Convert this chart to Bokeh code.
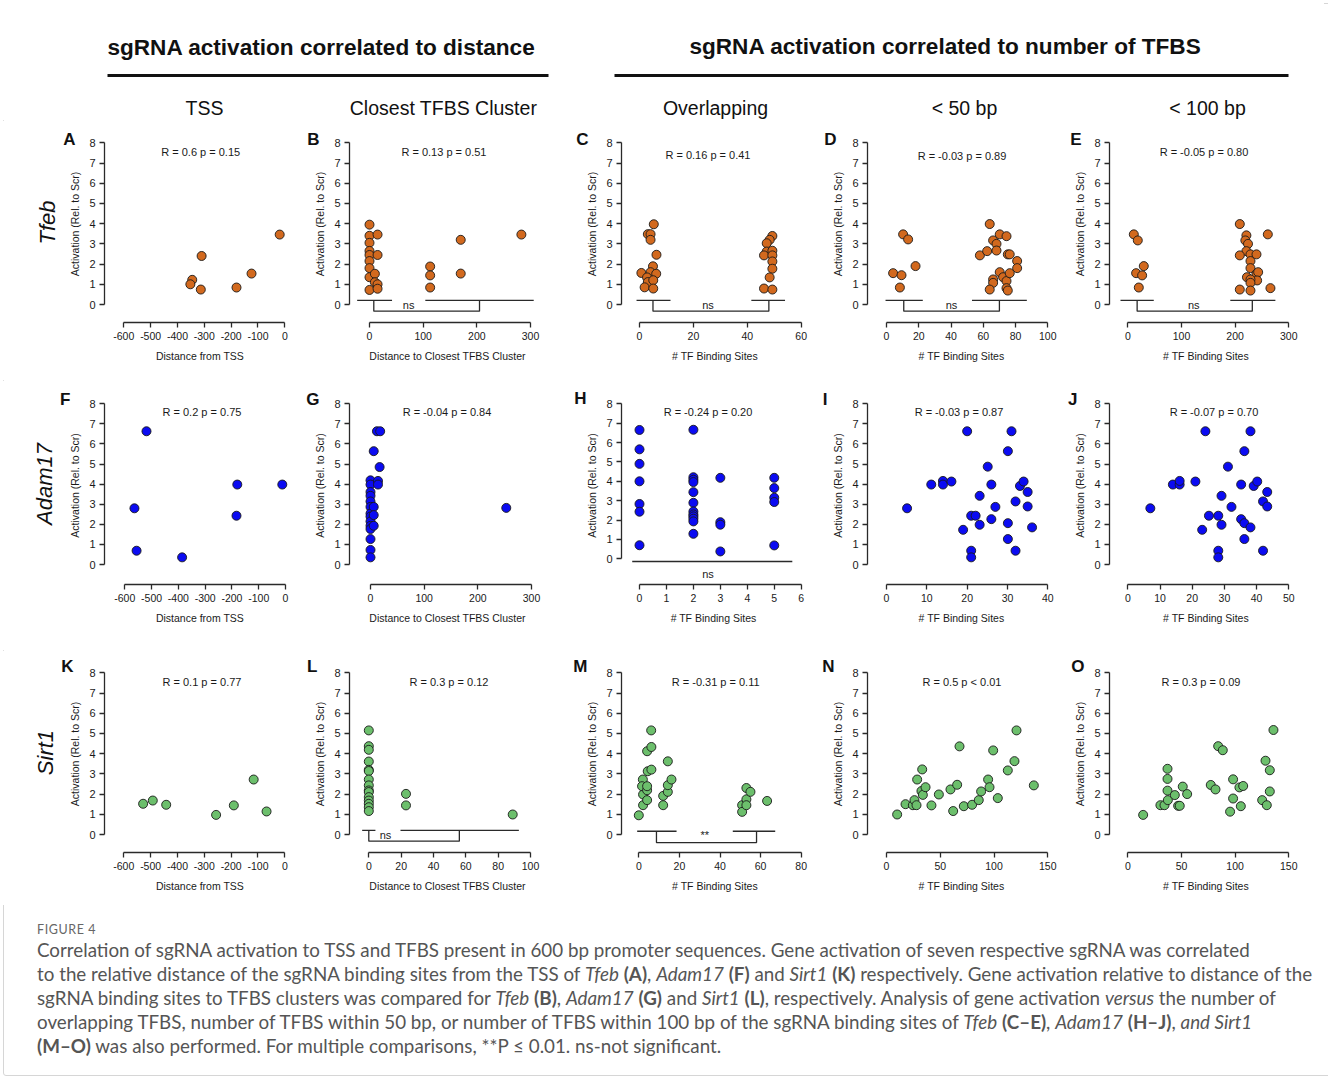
import math
from bokeh.plotting import figure
from bokeh.models import Range1d, Label, Div, FixedTicker, LinearAxis, CustomJSTickFormatter
from bokeh.layouts import row, column
from bokeh.embed import file_html
from bokeh.resources import INLINE

FONT = "Liberation Sans"
ORANGE = "#D2691E"
BLUE = "#0B0BF2"
GREEN = "#6CBF6C"

# ---------------------------------------------------------------- data
# Tfeb
tfeb_tss_x = [-345, -352, -310, -313, -180, -124, -19]
tfeb_tss_y = [1.22, 1.00, 2.40, 0.74, 0.84, 1.53, 3.46]
tfeb_clu_x = [0, 0, 0, 0, 0, 0, 0, 0, 0, 10, 10, 15, 15, 15, 15, 113, 113, 113, 170, 170, 283]
tfeb_clu_y = [3.95, 3.40, 3.05, 2.65, 2.45, 2.15, 1.80, 1.35, 0.72, 1.52, 1.10, 3.46, 2.45, 1.00, 0.78,
              1.88, 1.44, 0.84, 3.20, 1.53, 3.46]
tfeb_ovl_x = [5.3, 3.1, 4.1, 4.1, 6.3, 5.0, 0.7, 4.1, 6.2, 2.8, 3.1, 5.1, 1.9, 5.1,
              49.3, 48.3, 47.2, 47.2, 46.2, 49.3, 49.3, 49.3, 49.3, 48.3, 46.2, 49.3]
tfeb_ovl_y = [3.97, 3.48, 3.48, 3.20, 2.46, 1.89, 1.56, 1.60, 1.52, 1.34, 1.11, 1.20, 0.85, 0.79,
              3.39, 3.20, 3.03, 2.62, 2.43, 2.66, 2.43, 2.13, 1.77, 1.34, 0.79, 0.74]
tfeb_50_x = [4.1, 9.3, 8.3, 10.3, 13.4, 18.0, 57.9, 62.4, 64.0, 66.1, 68.2, 68.2, 70.2, 74.4, 75.2,
             76.4, 81.0, 81.0, 70.2, 72.3, 74.4, 76.4, 66.1, 66.1, 64.0, 74.4, 75.2]
tfeb_50_y = [1.55, 1.45, 0.84, 3.47, 3.22, 1.90, 2.43, 2.64, 3.98, 3.17, 3.00, 2.67, 3.47, 3.38, 2.48,
             2.48, 2.15, 1.80, 1.60, 1.35, 1.16, 1.55, 1.24, 1.07, 0.74, 0.81, 0.69]
tfeb_100_x = [11.2, 18.6, 15.5, 26.7, 29.8, 20.5, 208.7, 221, 219, 224, 221, 208.7, 228.6, 239.8,
              260.9, 228.6, 228.6, 222, 239.8, 242.9, 241, 228.6, 228.6, 208.7, 228.6, 265.8]
tfeb_100_y = [3.47, 3.17, 1.55, 1.44, 1.90, 0.84, 3.98, 3.42, 3.17, 3.00, 2.64, 2.43, 2.48, 2.48,
              3.47, 2.15, 1.80, 1.35, 1.52, 1.60, 1.19, 1.24, 1.07, 0.74, 0.69, 0.81]

# Adam17
adam_tss_x = [-519, -564, -556, -386, -180, -183, -12]
adam_tss_y = [6.63, 2.80, 0.69, 0.36, 3.98, 2.43, 3.98]
adam_clu_x = [0, 0, 0, 0, 0, 0, 0, 0, 0, 0, 0, 0, 0, 0, 6, 6, 6, 6, 12, 18, 17, 14, 14, 253]
adam_clu_y = [4.19, 3.98, 3.61, 3.42, 3.14, 2.87, 2.54, 2.39, 2.15, 1.93, 1.77, 1.27, 0.73, 0.36,
              5.64, 2.87, 2.46, 1.93, 6.63, 6.63, 4.85, 4.16, 3.98, 2.82]
adam_ovl_x = [0, 0, 0, 0, 0, 0, 0, 2, 2, 2, 2, 2, 2, 2, 2, 2, 2, 2, 2, 3, 3, 3, 3, 5, 5, 5, 5, 5]
adam_ovl_y = [6.65, 5.65, 4.90, 4.00, 2.83, 2.43, 0.70, 6.66, 4.21, 4.08, 3.96, 3.44, 2.89, 2.44,
              2.29, 2.19, 2.07, 1.93, 1.29, 4.18, 1.89, 1.76, 0.38, 4.18, 3.65, 3.15, 2.93, 0.69]
adam_50_x = [5.1, 11.1, 14, 14, 16.1, 20, 19, 21, 22.1, 21, 21, 23.1, 23.1, 25.1, 26, 26, 27, 30.1,
             31, 30.1, 30.1, 32, 32, 33.1, 34, 35, 35, 36.1]
adam_50_y = [2.80, 3.98, 4.16, 3.98, 4.13, 6.63, 1.73, 2.43, 2.43, 0.69, 0.36, 1.98, 3.42, 4.87, 3.98,
             2.26, 2.87, 5.64, 6.63, 2.06, 1.27, 3.14, 0.69, 3.91, 4.13, 3.61, 2.89, 1.85]
adam_100_x = [7, 14, 16.1, 16.1, 21, 24.1, 23.1, 25.2, 28.1, 28.1, 28.1, 29.1, 29.1, 31.1, 32.2, 35.2,
              35.2, 36.2, 36.2, 36.2, 38.1, 38.1, 39.1, 40.2, 42, 42, 43.3, 43.3]
adam_100_y = [2.80, 3.98, 3.98, 4.16, 4.13, 6.63, 1.73, 2.43, 2.43, 0.69, 0.36, 1.98, 3.42, 4.87, 2.87,
              3.98, 2.26, 2.06, 1.27, 5.64, 6.63, 1.85, 3.91, 4.13, 3.14, 0.69, 3.61, 2.89]

# Sirt1
sirt_tss_x = [-528, -492, -442, -256, -190, -116, -68]
sirt_tss_y = [1.52, 1.68, 1.47, 0.97, 1.44, 2.72, 1.14]
sirt_clu_x = [0, 0, 0, 0, 0, 0, 0, 0, 0, 0, 0, 0, 0, 0, 0, 23, 23, 89]
sirt_clu_y = [5.15, 4.37, 4.19, 3.61, 3.20, 3.14, 2.72, 2.43, 2.18, 2.10, 1.85, 1.68, 1.52, 1.35, 1.16,
              2.01, 1.44, 0.99]
sirt_ovl_x = [0, 2.1, 2.1, 2, 1.6, 4.1, 4.1, 4.1, 4.4, 4.1, 6.2, 6.2, 6.1, 12, 12, 14.3, 14.3, 14.3,
              16.1, 50.9, 50.9, 53, 53, 53, 55, 63.2]
sirt_ovl_y = [0.95, 1.45, 1.98, 2.72, 2.39, 1.70, 2.19, 2.39, 3.13, 4.12, 4.33, 3.21, 5.15, 1.45, 1.91,
              3.62, 2.11, 2.44, 2.72, 1.45, 1.12, 2.30, 1.74, 1.45, 2.11, 1.66]
sirt_50_x = [9.9, 17.7, 24.5, 26, 27.9, 28.5, 32.5, 33.2, 33.8, 36.3, 41.8, 48.7, 59.5, 62, 65.7, 67.9,
             71.9, 79.6, 85.8, 88, 94.5, 95.8, 99.2, 103.5, 112.8, 119, 120.9, 137]
sirt_50_y = [0.99, 1.50, 1.45, 1.70, 1.45, 2.72, 2.15, 3.22, 1.96, 2.34, 1.44, 1.98, 2.23, 1.16, 2.46,
             4.36, 1.40, 1.47, 1.70, 2.13, 2.72, 2.34, 4.16, 1.80, 3.17, 3.63, 5.15, 2.43]
sirt_100_x = [14.3, 30.4, 34.2, 37.3, 37, 37, 37, 43.8, 46.9, 48.4, 51.2, 55.3, 77.3, 81.7, 84.2, 88.5,
              95.3, 98.1, 98.1, 104, 105.3, 107.5, 125.2, 128.3, 129.5, 132.3, 132.3, 135.7]
sirt_100_y = [0.97, 1.45, 1.45, 1.70, 3.25, 2.75, 2.17, 1.95, 1.42, 1.42, 2.37, 2.00, 2.45, 2.23, 4.37,
              4.17, 1.13, 2.73, 1.78, 2.33, 1.40, 2.40, 1.70, 3.65, 1.45, 3.18, 2.13, 5.17]

# tick labels
ticks_tss = [-600, -500, -400, -300, -200, -100, 0]
ticks_300 = [0, 100, 200, 300]
ticks_60 = [0, 20, 40, 60]
ticks_100_20 = [0, 20, 40, 60, 80, 100]
ticks_6 = [0, 1, 2, 3, 4, 5, 6]
ticks_40 = [0, 10, 20, 30, 40]
ticks_50 = [0, 10, 20, 30, 40, 50]
ticks_80 = [0, 20, 40, 60, 80]
ticks_150 = [0, 50, 100, 150]
y_ticks = [0, 1, 2, 3, 4, 5, 6, 7, 8]

# statistics text per panel
stats = {
    "A": "R = 0.6  p = 0.15", "B": "R = 0.13  p = 0.51", "C": "R = 0.16  p = 0.41",
    "D": "R = -0.03  p = 0.89", "E": "R = -0.05  p = 0.80",
    "F": "R = 0.2  p = 0.75", "G": "R = -0.04  p = 0.84", "H": "R = -0.24  p = 0.20",
    "I": "R = -0.03  p = 0.87", "J": "R = -0.07  p = 0.70",
    "K": "R = 0.1  p = 0.77", "L": "R = 0.3  p = 0.12", "M": "R = -0.31  p = 0.11",
    "N": "R = 0.5  p < 0.01", "O": "R = 0.3  p = 0.09",
}
# group comparison brackets: (group spans, bracket ends, label x, label)
brackets = {
    "B": ([(-23, 42), (104, 306)], (8, 205), 73, "ns"),
    "C": ([(-1.1, 11.5), (41.5, 54)], (5, 48), 25.4, "ns"),
    "D": ([(-0.6, 22.5), (53, 87)], (10.7, 70), 40.3, "ns"),
    "E": ([(-13.6, 48.4), (191, 275)], (17.4, 232), 123, "ns"),
    "L": ([(-4.1, 4.1), (19.6, 92.8)], (0, 56), 10.3, "ns"),
    "M": ([(-0.8, 18.6), (46.3, 67.2)], (8.7, 58), 32.5, "**"),
}
h_line = ((-0.27, 5.67), 2.54, "ns")   # single comparison line in panel H

row_names = ["Tfeb", "Adam17", "Sirt1"]
col_titles = ["TSS", "Closest TFBS Cluster", "Overlapping", "< 50 bp", "< 100 bp"]
xlab_tss = "Distance from TSS"
xlab_clu = "Distance to Closest TFBS Cluster"
xlab_tf = "# TF Binding Sites"

# ---------------------------------------------------------------- layout constants (page px)
COL_LEFT = [0, 300, 570, 815, 1060]
COL_W = [300, 270, 245, 245, 264]
FRAME_L = [104, 349, 621, 867, 1109]
FRAME_R = [295, 545, 808, 1055, 1302]
HDR_H = 120
ROW_TOP = [120, 380, 650]
ROW_H = [260, 270, 255]
ROW_YCAL = [(304, 142.3, 322), (564, 402.3, 584), (834, 672.3, 852)]
ROW_LABEL_X = 50
LETTER_W = {"A": .72, "B": .72, "C": .72, "D": .72, "E": .67, "F": .61, "G": .78, "H": .72,
            "I": .28, "J": .56, "K": .72, "L": .61, "M": .83, "N": .72, "O": .78}
Y_AXIS_EXTENT = 38   # approx. px occupied by the y axis (ticks, labels, title)

panels = [
    # row 0
    dict(k="A", r=0, c=0, x=tfeb_tss_x, y=tfeb_tss_y, col=ORANGE, t=ticks_tss, xl=xlab_tss,
         xcal=(-600, 123.3, 0, 284.3), lt=(69, 139), st=(201.7, 151)),
    dict(k="B", r=0, c=1, x=tfeb_clu_x, y=tfeb_clu_y, col=ORANGE, t=ticks_300, xl=xlab_clu,
         xcal=(0, 369, 300, 530), lt=(313, 139), st=(445, 151)),
    dict(k="C", r=0, c=2, x=tfeb_ovl_x, y=tfeb_ovl_y, col=ORANGE, t=ticks_60, xl=xlab_tf,
         xcal=(0, 639, 60, 800.7), lt=(582, 139), st=(709, 154)),
    dict(k="D", r=0, c=3, x=tfeb_50_x, y=tfeb_50_y, col=ORANGE, t=ticks_100_20, xl=xlab_tf,
         xcal=(0, 886, 100, 1047.3), lt=(830, 139), st=(963, 155)),
    dict(k="E", r=0, c=4, x=tfeb_100_x, y=tfeb_100_y, col=ORANGE, t=ticks_300, xl=xlab_tf,
         xcal=(0, 1127.3, 300, 1288.3), lt=(1075, 139), st=(1205, 151)),
    # row 1
    dict(k="F", r=1, c=0, x=adam_tss_x, y=adam_tss_y, col=BLUE, t=ticks_tss, xl=xlab_tss,
         xcal=(-600, 124.3, 0, 285), lt=(65, 398), st=(203, 411)),
    dict(k="G", r=1, c=1, x=adam_clu_x, y=adam_clu_y, col=BLUE, t=ticks_300, xl=xlab_clu,
         xcal=(0, 370, 300, 531), lt=(312, 398), st=(448, 411)),
    dict(k="H", r=1, c=2, x=adam_ovl_x, y=adam_ovl_y, col=BLUE, t=ticks_6, xl="#  TF Binding Sites",
         xcal=(0, 639, 6, 800.7), lt=(580, 398), st=(709, 411), ycal=(558.3, 403.3, 584.3)),
    dict(k="I", r=1, c=3, x=adam_50_x, y=adam_50_y, col=BLUE, t=ticks_40, xl=xlab_tf,
         xcal=(0, 886, 40, 1047.3), lt=(825, 398), st=(960, 411)),
    dict(k="J", r=1, c=4, x=adam_100_x, y=adam_100_y, col=BLUE, t=ticks_50, xl=xlab_tf,
         xcal=(0, 1127.3, 50, 1288.3), lt=(1072, 398), st=(1215, 411)),
    # row 2
    dict(k="K", r=2, c=0, x=sirt_tss_x, y=sirt_tss_y, col=GREEN, t=ticks_tss, xl=xlab_tss,
         xcal=(-600, 123.3, 0, 284.3), lt=(67, 666), st=(203, 681.7)),
    dict(k="L", r=2, c=1, x=sirt_clu_x, y=sirt_clu_y, col=GREEN, t=ticks_100_20, xl=xlab_clu,
         xcal=(0, 368.3, 100, 530), lt=(312, 666), st=(450, 681.7)),
    dict(k="M", r=2, c=2, x=sirt_ovl_x, y=sirt_ovl_y, col=GREEN, t=ticks_80, xl=xlab_tf,
         xcal=(0, 638.3, 80, 800.7), lt=(580, 666), st=(716.7, 681.7)),
    dict(k="N", r=2, c=3, x=sirt_50_x, y=sirt_50_y, col=GREEN, t=ticks_150, xl=xlab_tf,
         xcal=(0, 886, 150, 1047.3), lt=(828, 666), st=(963, 681.7)),
    dict(k="O", r=2, c=4, x=sirt_100_x, y=sirt_100_y, col=GREEN, t=ticks_150, xl=xlab_tf,
         xcal=(0, 1127.3, 150, 1288.3), lt=(1077, 666), st=(1202, 681.7)),
]

TXT = "#1a1a1a"
LINE = "#2a2a2a"


def make_panel(s):
    c, r = s["c"], s["r"]
    fig_left, fig_w = COL_LEFT[c], COL_W[c]
    top, H = ROW_TOP[r], ROW_H[r]
    y0px, y8px, axpx = s.get("ycal", ROW_YCAL[r])
    fl = FRAME_L[c] - fig_left
    fr = FRAME_R[c] - fig_left
    ft = int(round(y8px - 20 - top))
    fb = int(round(axpx - top))
    v1, p1, v2, p2 = s["xcal"]
    p1 -= fig_left
    p2 -= fig_left
    sx = (p2 - p1) / (v2 - v1)
    xs = v1 - (p1 - fl) / sx
    xe = v1 + (fr - p1) / sx
    y0r, y8r = y0px - top, y8px - top
    sy = (y0r - y8r) / 8.0
    ys = -(fb - y0r) / sy
    ye = (y0r - ft) / sy

    def X(px):
        return v1 + (px - fig_left - p1) / sx

    def Y(py):
        return (y0r - (py - top)) / sy

    p = figure(width=fig_w, height=H, x_range=Range1d(xs, xe), y_range=Range1d(ys, ye),
               min_border_left=fl, min_border_right=fig_w - fr, min_border_top=ft,
               min_border_bottom=H - fb, toolbar_location=None, output_backend="svg")
    p.outline_line_color = None
    p.grid.visible = False
    p.background_fill_color = "white"
    p.border_fill_color = "white"

    xa = p.xaxis[0]
    xa.ticker = FixedTicker(ticks=s["t"])
    xa.bounds = (s["t"][0], s["t"][-1])
    xa.major_label_overrides = {t: str(t) for t in s["t"]}
    xa.axis_label = s["xl"]
    ya = p.yaxis[0]
    ya.ticker = FixedTicker(ticks=y_ticks)
    ya.bounds = (0, 8)
    ya.axis_label = "Activation  (Rel. to Scr)"
    for ax in (xa, ya):
        ax.axis_line_color = LINE
        ax.axis_line_width = 1.3
        ax.major_tick_line_color = LINE
        ax.major_tick_line_width = 1.3
        ax.major_tick_out = 5
        ax.major_tick_in = 0
        ax.minor_tick_line_color = None
        ax.major_label_text_font = FONT
        ax.major_label_text_font_size = "10.5px"
        ax.major_label_text_color = TXT
        ax.major_label_standoff = 4
        ax.axis_label_text_font = FONT
        ax.axis_label_text_font_size = "10.5px"
        ax.axis_label_text_font_style = "normal"
        ax.axis_label_text_color = TXT
    ya.major_label_text_font_size = "11px"
    xa.axis_label_standoff = 7
    ya.axis_label_standoff = 5

    k = s["k"]
    # panel letter (and, in the first column, the gene name) on an extra left axis
    lx, ly = s["lt"]
    lw = LETTER_W[k] * 17
    standoff = int(round((FRAME_L[c] - lx) - lw / 2 - Y_AXIS_EXTENT))
    la = LinearAxis(ticker=FixedTicker(ticks=[Y(ly)]),
                    formatter=CustomJSTickFormatter(code="return '%s';" % k))
    la.axis_line_color = None
    la.major_tick_line_color = None
    la.minor_tick_line_color = None
    la.major_tick_out = 0
    la.major_tick_in = 0
    la.major_label_standoff = standoff
    la.major_label_text_font = FONT
    la.major_label_text_font_size = "17px"
    la.major_label_text_font_style = "bold"
    la.major_label_text_color = "#111"
    if c == 0:
        la.axis_label = row_names[r]
        la.axis_label_text_font = FONT
        la.axis_label_text_font_size = "22px"
        la.axis_label_text_font_style = "italic"
        la.axis_label_text_color = "#111"
        used = Y_AXIS_EXTENT + standoff + lw
        la.axis_label_standoff = max(0, int(round((FRAME_L[0] - ROW_LABEL_X) - 12.5 - used)))
    p.add_layout(la, "left")

    if k in brackets:
        groups, (b0, b1), lx2, lab = brackets[k]
        gy = 0.2 if k != "M" else 0.16
        by = -0.33 if k != "M" else -0.4
        for g0, g1 in groups:
            p.line([g0, g1], [gy, gy], line_color=LINE, line_width=1.3)
        p.line([b0, b0, b1, b1], [gy, by, by, gy], line_color=LINE, line_width=1.3)
        p.add_layout(Label(x=lx2, y=-0.03, text=lab, text_align="center", text_baseline="middle",
                           text_font=FONT, text_font_size="11px", text_color=TXT))
    if k == "H":
        (g0, g1), lx2, lab = h_line
        p.line([g0, g1], [-0.14, -0.14], line_color=LINE, line_width=1.3)
        p.add_layout(Label(x=lx2, y=-0.77, text=lab, text_align="center", text_baseline="middle",
                           text_font=FONT, text_font_size="11px", text_color=TXT))

    p.scatter(s["x"], s["y"], size=9, fill_color=s["col"], line_color="#1a1a1a", line_width=0.9)

    sx_, sy_ = s["st"]
    p.add_layout(Label(x=X(sx_), y=Y(sy_), text=stats[k], text_align="center", text_baseline="middle",
                       text_font=FONT, text_font_size="11px", text_color=TXT))
    return p


def blank(w, h):
    f = figure(width=w, height=h, x_range=Range1d(0, w), y_range=Range1d(h, 0), min_border=0,
               x_axis_type=None, y_axis_type=None, toolbar_location=None, output_backend="svg")
    f.outline_line_color = None
    f.grid.visible = False
    return f


# header
TOTAL_W = sum(COL_W)
hdr = blank(TOTAL_W, HDR_H)
hdr.add_layout(Label(x=321, y=47, text="sgRNA activation correlated to distance", text_align="center",
                     text_baseline="middle", text_font=FONT, text_font_size="22.6px", text_font_style="bold",
                     text_color="#111"))
hdr.add_layout(Label(x=945, y=46, text="sgRNA activation correlated to number of TFBS", text_align="center",
                     text_baseline="middle", text_font=FONT, text_font_size="22.6px", text_font_style="bold",
                     text_color="#111"))
hdr.segment(x0=[107, 614], y0=[75, 75], x1=[548, 1288], y1=[75, 75], line_color="#111", line_width=3)
for cx, t in zip([204, 443, 715, 964, 1207], col_titles):
    hdr.add_layout(Label(x=cx, y=107, text=t, text_align="center", text_baseline="middle",
                         text_font=FONT, text_font_size="19.5px", text_color="#111"))

rows = []
for r in range(3):
    figs = [make_panel(s) for s in panels if s["r"] == r]
    rows.append(row(*figs, spacing=0))

caption_lines = [
    "Correlation of sgRNA activation to TSS and TFBS present in 600 bp promoter sequences. Gene activation of seven respective sgRNA was correlated",
    "to the relative distance of the sgRNA binding sites from the TSS of <i>Tfeb</i> <b>(A)</b>, <i>Adam17</i> <b>(F)</b> and <i>Sirt1</i> <b>(K)</b> respectively. Gene activation relative to distance of the",
    "sgRNA binding sites to TFBS clusters was compared for <i>Tfeb</i> <b>(B)</b>, <i>Adam17</i> <b>(G)</b> and <i>Sirt1</i> <b>(L)</b>, respectively. Analysis of gene activation <i>versus</i> the number of",
    "overlapping TFBS, number of TFBS within 50 bp, or number of TFBS within 100 bp of the sgRNA binding sites of <i>Tfeb</i> <b>(C–E)</b>, <i>Adam17</i> <b>(H–J)</b>, <i>and Sirt1</i>",
    "<b>(M–O)</b> was also performed. For multiple comparisons, **P ≤ 0.01. ns-not significant.",
]
cap_html = ("<div style=\"font-family:'Lato',sans-serif;color:#555;padding-left:32px;padding-top:12px;"
            "white-space:nowrap;\">"
            "<div style=\"font-size:12.5px;line-height:16px;letter-spacing:0.6px;color:#666;\">FIGURE 4</div>"
            "<div style=\"font-size:18.8px;line-height:24px;\">" + "<br>".join(caption_lines) + "</div></div>")
cap = Div(text=cap_html, width=TOTAL_W, height=164)

page = column(hdr, *rows, cap, spacing=0,
              styles={"outline": "1px solid #d6d6d6", "outline-offset": "-4px", "border-radius": "6px"})

open("out.html", "w").write(file_html(page, INLINE))
